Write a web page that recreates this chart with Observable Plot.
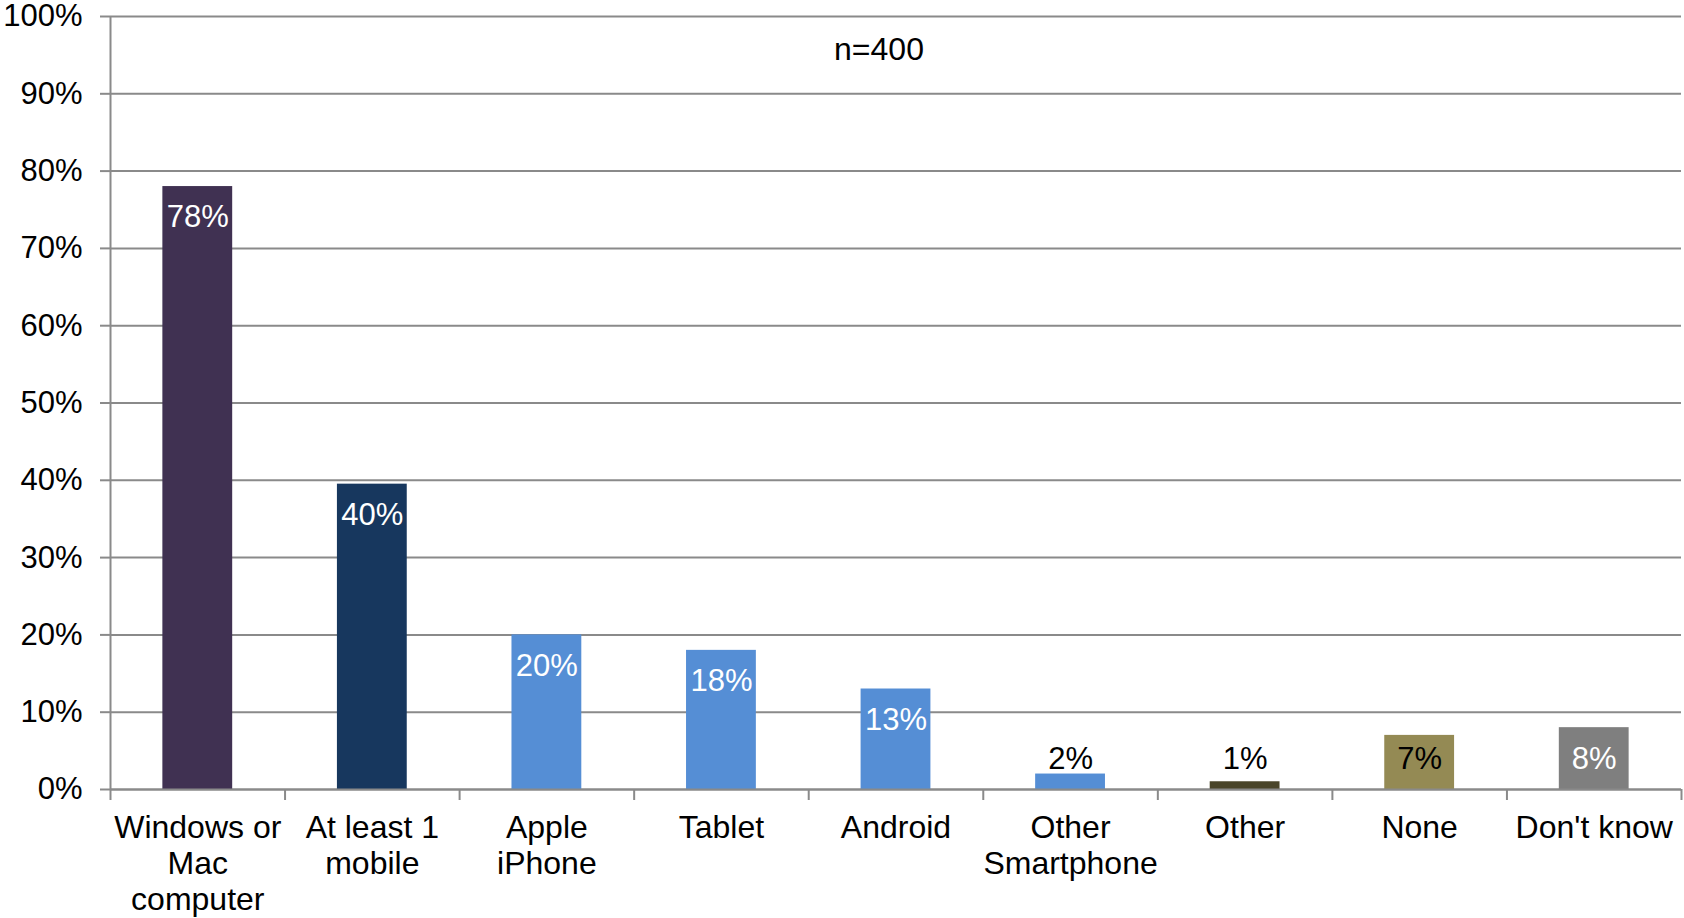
<!DOCTYPE html>
<html>
<head>
<meta charset="utf-8">
<script src="https://cdn.jsdelivr.net/npm/d3@7"></script>
<script src="https://cdn.jsdelivr.net/npm/@observablehq/plot@0.6"></script>
<style>
  html, body { margin: 0; padding: 0; background: #fff; }
  #chart svg { display: block; }
</style>
</head>
<body>
<div id="chart"></div>
<script>
const categories = ["Windows or\nMac\ncomputer", "At least 1\nmobile", "Apple\niPhone", "Tablet", "Android", "Other\nSmartphone", "Other", "None", "Don't know"];
const values = [78, 39.5, 20, 18, 13, 2, 1, 7, 8];
const valueLabels = ["78%", "40%", "20%", "18%", "13%", "2%", "1%", "7%", "8%"];
const barColors = ["#403152", "#17375E", "#558ED5", "#558ED5", "#558ED5", "#558ED5", "#4A452A", "#948A54", "#7F7F7F"];
const labelColors = ["#fff", "#fff", "#fff", "#fff", "#fff", "#000", "#000", "#000", "#fff"];
const yTicks = [0, 10, 20, 30, 40, 50, 60, 70, 80, 90, 100];
const note = "n=400";

const data = categories.map((c, i) => ({
  cat: c, i, value: values[i], label: valueLabels[i],
  color: barColors[i], labelColor: labelColors[i],
  labelY: Math.max(values[i] - 4, 3.9)
}));

const gray = "#8a8a8a";
const font = "Liberation Sans, Arial, sans-serif";

const chart = Plot.plot({
  width: 1684,
  height: 918,
  marginLeft: 110,
  marginRight: 3,
  marginTop: 16,
  marginBottom: 129,
  style: { fontFamily: font, fontSize: "31px", color: "#000", background: "#fff", overflow: "visible" },
  x: { type: "linear", domain: [0, categories.length], axis: null },
  y: { domain: [0, 100], axis: null },
  marks: [
    Plot.ruleY(yTicks, { stroke: gray, strokeWidth: 2 }),
    Plot.axisY({ ticks: yTicks, tickFormat: d => d + "%", tickSize: 10, tickPadding: 18, stroke: gray, strokeWidth: 2, fontSize: 31, fill: "#000", label: null }),
    Plot.ruleX([0], { stroke: gray, strokeWidth: 2 }),
    Plot.axisX({ ticks: d3.range(categories.length + 1), tickFormat: () => "", tickSize: 11, stroke: gray, strokeWidth: 2, label: null }),
    Plot.rectY(data, { x1: d => d.i + 0.3, x2: d => d.i + 0.7, y1: 0, y2: "value", fill: "color" }),
    Plot.ruleY([0], { stroke: gray, strokeWidth: 2 }),
    Plot.text(data, { x: d => d.i + 0.5, y: "labelY", text: "label", fill: "labelColor", fontSize: 31 }),
    Plot.text(data, { x: d => d.i + 0.5, y: 0, text: "cat", fill: "#000", fontSize: 32, lineAnchor: "top", lineHeight: 1.125, dy: 23 }),
    Plot.text([note], { frameAnchor: "top", dx: -17, dy: 21, fontSize: 32, fill: "#000" })
  ]
});
document.getElementById("chart").appendChild(chart);
</script>
</body>
</html>
